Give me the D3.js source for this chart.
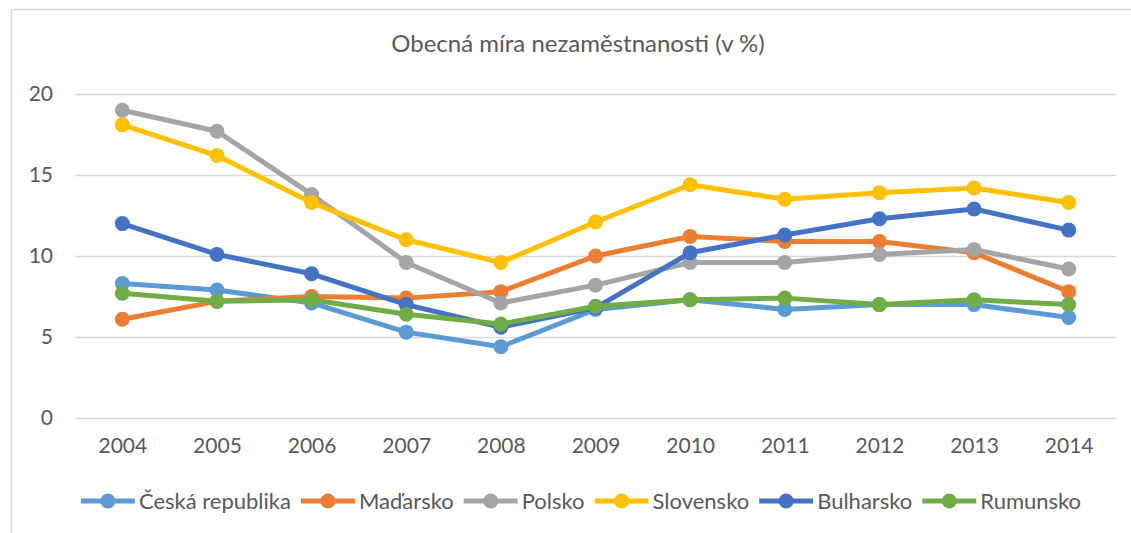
<!DOCTYPE html>
<html>
<head>
<meta charset="utf-8">
<script src="https://cdn.jsdelivr.net/npm/d3@7"></script>
<style>
  body { margin: 0; background: #fff; }
  text { font-family: Lato, "Open Sans", sans-serif; fill: #595959; }
</style>
</head>
<body>
<div class="chart"></div>
<script>
// data
var years = ['2004','2005','2006','2007','2008','2009','2010','2011','2012','2013','2014'];
var ceskaRepublika = [8.3, 7.9, 7.1, 5.3, 4.4, 6.7, 7.3, 6.7, 7.0, 7.0, 6.2];
var madarsko       = [6.1, 7.2, 7.5, 7.4, 7.8, 10.0, 11.2, 10.9, 10.9, 10.2, 7.8];
var polsko         = [19.0, 17.7, 13.8, 9.6, 7.1, 8.2, 9.6, 9.6, 10.1, 10.4, 9.2];
var slovensko      = [18.1, 16.2, 13.3, 11.0, 9.6, 12.1, 14.4, 13.5, 13.9, 14.2, 13.3];
var bulharsko      = [12.0, 10.1, 8.9, 7.0, 5.6, 6.8, 10.2, 11.3, 12.3, 12.9, 11.6];
var rumunsko       = [7.7, 7.2, 7.3, 6.4, 5.8, 6.9, 7.3, 7.4, 7.0, 7.3, 7.0];
var yTicks = [0, 5, 10, 15, 20];

var series = [
    {name: 'Česká republika', values: ceskaRepublika, color: '#5B9BD5'},
    {name: 'Maďarsko', values: madarsko, color: '#ED7D31'},
    {name: 'Polsko', values: polsko, color: '#A5A5A5'},
    {name: 'Slovensko', values: slovensko, color: '#FFC000'},
    {name: 'Bulharsko', values: bulharsko, color: '#4472C4'},
    {name: 'Rumunsko', values: rumunsko, color: '#70AD47'}
];

const width = 1131;
const height = 533;
const plotLeft = 75, plotRight = 1116, plotTop = 94, plotBottom = 418;

var svg = d3.select('.chart')
    .append('svg')
    .attr('width', width)
    .attr('height', height);

svg.append('rect')
    .attr('width', width).attr('height', height)
    .attr('fill', '#fff');

// chart frame, cropped on the right and bottom
svg.append('rect')
    .attr('x', 11.5).attr('y', 9.5)
    .attr('width', 1200).attr('height', 600)
    .attr('fill', 'none')
    .attr('stroke', '#d9d9d9')
    .attr('stroke-width', 1.5);

var x = d3.scalePoint().domain(years).range([plotLeft, plotRight]).padding(0.5);
var y = d3.scaleLinear().domain([0, 20]).range([plotBottom, plotTop]);

svg.append('text')
    .attr('x', 578).attr('y', 52)
    .attr('text-anchor', 'middle')
    .attr('font-size', '24px')
    .text('Obecná míra nezaměstnanosti (v %)');

// gridlines + y labels
var yAxis = svg.append('g')
    .attr('transform', 'translate(' + plotLeft + ',0)')
    .call(d3.axisLeft(y).tickValues(yTicks).tickSize(-(plotRight - plotLeft)).tickPadding(22));
yAxis.select('.domain').remove();
yAxis.selectAll('line').attr('stroke', '#d9d9d9').attr('stroke-width', 1.5);
yAxis.selectAll('text')
    .attr('font-size', '21px')
    .attr('font-family', 'Lato, sans-serif')
    .attr('fill', '#595959');

var xAxis = svg.append('g')
    .attr('transform', 'translate(0,' + plotBottom + ')')
    .call(d3.axisBottom(x).tickSize(0).tickPadding(20));
xAxis.select('.domain').remove();
xAxis.selectAll('text')
    .attr('font-size', '21px')
    .attr('font-family', 'Lato, sans-serif')
    .attr('fill', '#595959');

var line = d3.line()
    .x(function(d, i){ return x(years[i]); })
    .y(function(d){ return y(d); });

series.forEach(function(s){
    var g = svg.append('g');
    g.append('path')
        .attr('d', line(s.values))
        .attr('fill', 'none')
        .attr('stroke', s.color)
        .attr('stroke-width', 5)
        .attr('stroke-linejoin', 'round');
    g.selectAll('circle')
        .data(s.values)
        .enter()
        .append('circle')
        .attr('cx', function(d, i){ return x(years[i]); })
        .attr('cy', function(d){ return y(d); })
        .attr('r', 7.5)
        .attr('fill', s.color);
});

// legend
var legend = svg.append('g');
var lx = 0;
series.forEach(function(s){
    var item = legend.append('g').attr('transform', 'translate(' + lx + ',0)');
    item.append('line')
        .attr('x1', 0).attr('x2', 54)
        .attr('stroke', s.color).attr('stroke-width', 5);
    item.append('circle').attr('cx', 27).attr('r', 7.5).attr('fill', s.color);
    var t = item.append('text')
        .attr('x', 58).attr('dy', '0.35em')
        .attr('font-size', '22px')
        .text(s.name);
    lx += 58 + t.node().getComputedTextLength() + 10;
});
var legendW = lx - 10;
legend.attr('transform', 'translate(' + (581 - legendW / 2) + ',501)');
</script>
</body>
</html>
